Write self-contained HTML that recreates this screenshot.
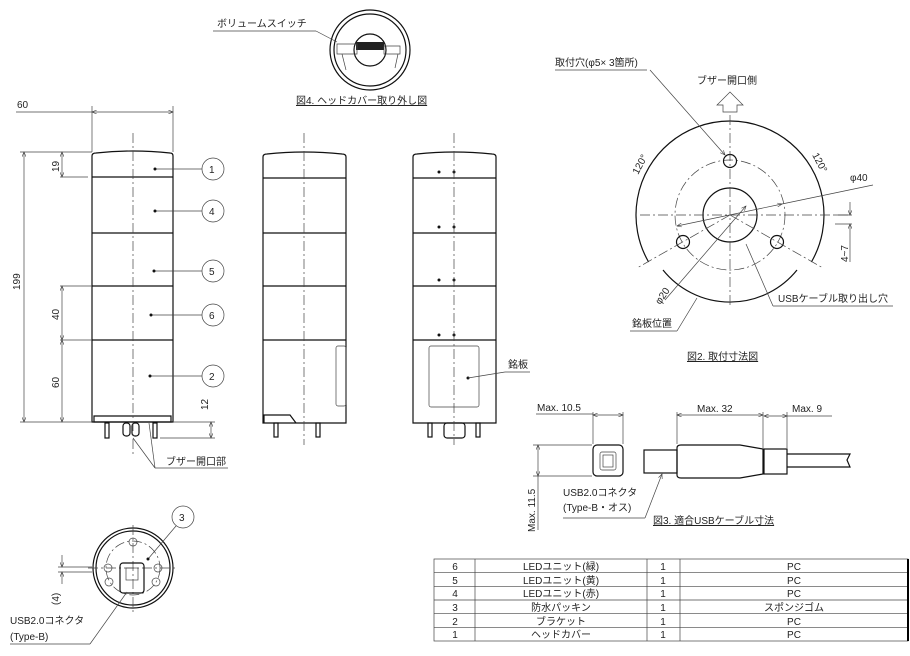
<!DOCTYPE html>
<html><head><meta charset="utf-8"><style>
body{margin:0;background:#fff}
svg{display:block}
text{font-family:"Liberation Sans","Noto Sans CJK JP",sans-serif;font-size:10px;fill:#222}
.l{stroke:#111;fill:none;stroke-width:1.2}
.t{stroke:#444;fill:none;stroke-width:0.7}
.c{stroke:#444;fill:none;stroke-width:0.7;stroke-dasharray:10 3 2 3}
.d{fill:#111}
</style></head><body>
<svg width="910" height="656" viewBox="0 0 910 656" xmlns="http://www.w3.org/2000/svg">
<defs><marker id="a" markerWidth="8" markerHeight="6" refX="7" refY="3" orient="auto-start-reverse"><path d="M0,0 L7,3 L0,6" fill="none" stroke="#333" stroke-width="0.8"/></marker></defs>

<!-- Tower 1 -->
<g>
<path class="l" d="M92,422 V156 Q92,153 96,153 Q133,149 170,153 Q173,153 173,156 V422 Z"/>
<line class="l" x1="92" y1="177" x2="173" y2="177"/><line class="l" x1="92" y1="233" x2="173" y2="233"/>
<line class="l" x1="92" y1="286" x2="173" y2="286"/><line class="l" x1="92" y1="340" x2="173" y2="340"/>
<path class="l" d="M94,422 h77 v-6 h-77z"/>
<rect class="l" x="105" y="423" width="4" height="15"/><rect class="l" x="153" y="423" width="4" height="15"/>
<rect class="l" x="123" y="423" width="7" height="13" rx="3"/><rect class="l" x="132" y="423" width="7" height="13" rx="3"/>
<line class="c" x1="133" y1="133" x2="133" y2="455"/>
<line class="t" x1="92" y1="106" x2="92" y2="152"/><line class="t" x1="173" y1="106" x2="173" y2="152"/>
<line class="t" x1="92" y1="112" x2="173" y2="112" marker-start="url(#a)" marker-end="url(#a)"/>
<line class="t" x1="16" y1="112" x2="92" y2="112"/><text x="17" y="108">60</text>
<line class="t" x1="20" y1="152" x2="92" y2="152"/><line class="t" x1="20" y1="422" x2="92" y2="422"/>
<line class="t" x1="24" y1="152" x2="24" y2="422" marker-start="url(#a)" marker-end="url(#a)"/>
<text transform="translate(20,290) rotate(-90)">199</text>
<line class="t" x1="60" y1="177" x2="88" y2="177"/><line class="t" x1="60" y1="286" x2="92" y2="286"/><line class="t" x1="60" y1="340" x2="92" y2="340"/>
<line class="t" x1="62" y1="152" x2="62" y2="177" marker-start="url(#a)" marker-end="url(#a)"/>
<text transform="translate(59,172) rotate(-90)">19</text>
<line class="t" x1="62" y1="286" x2="62" y2="340" marker-start="url(#a)" marker-end="url(#a)"/>
<text transform="translate(59,320) rotate(-90)">40</text>
<line class="t" x1="62" y1="340" x2="62" y2="422" marker-start="url(#a)" marker-end="url(#a)"/>
<text transform="translate(59,388) rotate(-90)">60</text>
<line class="t" x1="160" y1="438" x2="215" y2="438"/><line class="t" x1="173" y1="422" x2="215" y2="422"/>
<line class="t" x1="211" y1="422" x2="211" y2="438" marker-start="url(#a)" marker-end="url(#a)"/>
<text transform="translate(208,410) rotate(-90)">12</text>
<g class="t"><circle cx="213" cy="169" r="11"/><circle cx="213" cy="211" r="11"/><circle cx="213" cy="271" r="11"/><circle cx="213" cy="315" r="11"/><circle cx="213" cy="376" r="11"/>
<line x1="155" y1="169" x2="202" y2="169"/><line x1="155" y1="211" x2="202" y2="211"/><line x1="154" y1="271" x2="202" y2="271"/><line x1="151" y1="315" x2="202" y2="315"/><line x1="150" y1="376" x2="202" y2="376"/></g>
<g class="d"><circle cx="155" cy="169" r="1.5"/><circle cx="155" cy="211" r="1.5"/><circle cx="154" cy="271" r="1.5"/><circle cx="151" cy="315" r="1.5"/><circle cx="150" cy="376" r="1.5"/></g>
<text x="209" y="173">1</text><text x="209" y="215">4</text><text x="209" y="275">5</text><text x="209" y="319">6</text><text x="209" y="380">2</text>
<line class="t" x1="133" y1="438" x2="155" y2="468"/><line class="t" x1="149" y1="423" x2="155" y2="468"/>
<line class="t" x1="155" y1="468" x2="228" y2="468"/><text x="166" y="465">ブザー開口部</text>
</g>

<!-- Tower 2 -->
<g>
<path class="l" d="M263,423 V157 Q263,154 267,154 Q304,150 342,154 Q346,154 346,157 V423 Z"/>
<line class="l" x1="263" y1="178" x2="346" y2="178"/><line class="l" x1="263" y1="233" x2="346" y2="233"/>
<line class="l" x1="263" y1="286" x2="346" y2="286"/><line class="l" x1="263" y1="340" x2="346" y2="340"/>
<rect class="t" x="336" y="346" width="10" height="60" rx="2"/>
<path class="l" d="M264,423 v-8 h26 l6,8"/>
<rect class="l" x="274" y="423" width="4" height="14"/><rect class="l" x="316" y="423" width="4" height="14"/>
<line class="c" x1="304" y1="133" x2="304" y2="445"/>
</g>

<!-- Tower 3 -->
<g>
<path class="l" d="M413,423 V157 Q413,154 417,154 Q454,150 492,154 Q496,154 496,157 V423 Z"/>
<line class="l" x1="413" y1="178" x2="496" y2="178"/><line class="l" x1="413" y1="233" x2="496" y2="233"/>
<line class="l" x1="413" y1="286" x2="496" y2="286"/><line class="l" x1="413" y1="340" x2="496" y2="340"/>
<rect class="t" x="429" y="346" width="50" height="61" rx="2"/>
<g class="d"><circle cx="439" cy="172" r="1.5"/><circle cx="454" cy="172" r="1.5"/><circle cx="439" cy="227" r="1.5"/><circle cx="454" cy="227" r="1.5"/><circle cx="439" cy="280" r="1.5"/><circle cx="454" cy="280" r="1.5"/><circle cx="439" cy="335" r="1.5"/><circle cx="454" cy="335" r="1.5"/><circle cx="468" cy="378" r="1.5"/></g>
<line class="t" x1="468" y1="378" x2="505" y2="372"/><line class="t" x1="505" y1="372" x2="530" y2="372"/><text x="508" y="368">銘板</text>
<rect class="l" x="428" y="423" width="4" height="14"/><rect class="l" x="476" y="423" width="4" height="14"/>
<rect class="l" x="444" y="423" width="21" height="15" rx="3"/>
<line class="c" x1="454" y1="133" x2="454" y2="445"/>
</g>

<!-- Head cover view -->
<g>
<circle class="l" cx="370" cy="50" r="40"/><circle class="l" cx="370" cy="50" r="36"/>
<circle class="l" cx="370" cy="50" r="16"/>
<rect x="356" y="42" width="28" height="8" fill="#222"/>
<path class="t" d="M337,44 h20 v10 h-20z M384,46 h16 v8 h-16z M342,54 l4,16 M398,54 l-3,14"/>
<line class="t" x1="213" y1="31" x2="316" y2="31"/><line class="t" x1="316" y1="31" x2="337" y2="42"/>
<text x="217" y="27">ボリュームスイッチ</text>
<text x="296" y="104" style="text-decoration:underline">図4. ヘッドカバー取り外し図</text>
</g>

<!-- Bottom view -->
<g>
<circle class="l" cx="133" cy="568" r="40"/><circle class="l" cx="133" cy="568" r="37"/>
<circle class="c" cx="133" cy="568" r="27"/>
<line class="c" x1="88" y1="568" x2="178" y2="568"/><line class="c" x1="133" y1="525" x2="133" y2="612"/>
<g class="t"><circle cx="133" cy="542" r="4"/><circle cx="108" cy="568" r="4"/><circle cx="158" cy="568" r="4"/><circle cx="109" cy="582" r="4"/><circle cx="156" cy="582" r="4"/></g>
<rect class="l" x="120" y="563" width="24" height="30" rx="3"/><rect class="t" x="126" y="568" width="12" height="12"/>
<g class="t"><circle cx="183" cy="517" r="11"/><line x1="148" y1="559" x2="176" y2="526"/></g>
<circle class="d" cx="148" cy="559" r="1.5"/><text x="179" y="521">3</text>
<line class="t" x1="58" y1="567" x2="92" y2="567"/><line class="t" x1="58" y1="572" x2="92" y2="572"/>
<line class="t" x1="62" y1="555" x2="62" y2="567" marker-end="url(#a)"/><line class="t" x1="62" y1="584" x2="62" y2="572" marker-end="url(#a)"/>
<text transform="translate(59,605) rotate(-90)">(4)</text>
<line class="t" x1="10" y1="644" x2="90" y2="644"/><line class="t" x1="90" y1="644" x2="127" y2="592"/>
<text x="10" y="624">USB2.0コネクタ</text><text x="10" y="640">(Type-B)</text>
</g>

<!-- Fig 2 mounting -->
<g>
<path class="l" d="M648.6,262 A94,94 0 1 1 811.4,262"/>
<path class="l" d="M663,270 A86,86 0 0 0 797,270" stroke-width="1.6"/>
<circle class="c" cx="730" cy="215" r="55"/>
<circle class="l" cx="730" cy="215" r="27"/>
<circle class="l" cx="730" cy="161" r="6.5"/><circle class="l" cx="683" cy="242" r="6.5"/><circle class="l" cx="777" cy="242" r="6.5"/>
<line class="c" x1="730" y1="115" x2="730" y2="308"/><line class="c" x1="640" y1="215" x2="850" y2="215"/>
<line class="c" x1="730" y1="215" x2="637" y2="268"/><line class="c" x1="730" y1="215" x2="823" y2="268"/>
<path class="t" d="M723,112 v-7 h-6 l13,-13 l13,13 h-6 v7 z"/>
<text x="697" y="84">ブザー開口側</text>
<line class="t" x1="555" y1="70" x2="647" y2="70"/><line class="t" x1="650" y1="70" x2="725" y2="155" marker-end="url(#a)"/>
<text x="555" y="66">取付穴(φ5× 3箇所)</text>
<text transform="translate(638,175) rotate(-62)">120°</text>
<text transform="translate(812,155) rotate(62)">120°</text>
<line class="t" x1="677" y1="226" x2="782" y2="204" marker-start="url(#a)" marker-end="url(#a)"/><line class="t" x1="782" y1="204" x2="873" y2="185"/>
<text x="850" y="181">φ40</text>
<line class="t" x1="665" y1="300" x2="746" y2="206" marker-end="url(#a)"/>
<text transform="translate(660,305) rotate(-55)">φ20</text>
<line class="t" x1="835" y1="215" x2="852" y2="215"/><line class="t" x1="835" y1="224" x2="852" y2="224"/>
<line class="t" x1="850" y1="202" x2="850" y2="215" marker-end="url(#a)"/><line class="t" x1="850" y1="262" x2="850" y2="224" marker-end="url(#a)"/>
<text transform="translate(848,262) rotate(-90)">4~7</text>
<line class="t" x1="746" y1="244" x2="773" y2="306"/><line class="t" x1="773" y1="306" x2="893" y2="306"/>
<text x="778" y="302">USBケーブル取り出し穴</text>
<line class="t" x1="697" y1="298" x2="677" y2="331"/><line class="t" x1="630" y1="331" x2="677" y2="331"/>
<text x="632" y="327">銘板位置</text>
<text x="687" y="360" style="text-decoration:underline">図2. 取付寸法図</text>
</g>

<!-- Fig 3 USB -->
<g>
<rect class="l" x="593" y="445" width="30" height="31" rx="4"/><rect class="t" x="600" y="452" width="16" height="18" rx="2"/>
<rect class="t" x="603" y="455" width="10" height="12"/>
<line class="t" x1="593" y1="412" x2="593" y2="444"/><line class="t" x1="623" y1="412" x2="623" y2="444"/>
<line class="t" x1="536" y1="414" x2="593" y2="414"/><line class="t" x1="593" y1="415" x2="623" y2="415" marker-start="url(#a)" marker-end="url(#a)"/>
<text x="537" y="411">Max. 10.5</text>
<line class="t" x1="533" y1="445" x2="592" y2="445"/><line class="t" x1="533" y1="476" x2="592" y2="476"/>
<line class="t" x1="538" y1="445" x2="538" y2="476" marker-start="url(#a)" marker-end="url(#a)"/>
<line class="t" x1="538" y1="476" x2="538" y2="530"/>
<text transform="translate(535,532) rotate(-90)">Max. 11.5</text>
<rect class="l" x="644" y="450" width="33" height="23"/>
<path class="l" d="M677,448 Q677,445 681,445 H740 L763,449 V474 L740,478 H681 Q677,478 677,475 Z"/>
<rect class="l" x="764" y="449" width="23" height="25"/>
<path class="l" d="M787,454 H850 L847,460 L850,467 H787"/>
<line class="t" x1="677" y1="412" x2="677" y2="444"/><line class="t" x1="763" y1="412" x2="763" y2="448"/><line class="t" x1="787" y1="412" x2="787" y2="448"/>
<line class="t" x1="677" y1="415" x2="763" y2="415" marker-start="url(#a)" marker-end="url(#a)"/>
<line class="t" x1="764" y1="416" x2="787" y2="416" marker-start="url(#a)" marker-end="url(#a)"/>
<line class="t" x1="787" y1="416" x2="832" y2="416"/>
<text x="697" y="412">Max. 32</text><text x="792" y="412">Max. 9</text>
<line class="t" x1="563" y1="518" x2="645" y2="518"/><line class="t" x1="645" y1="518" x2="662" y2="474" marker-end="url(#a)"/>
<text x="563" y="496">USB2.0コネクタ</text><text x="563" y="511">(Type-B・オス)</text>
<text x="653" y="524" style="text-decoration:underline">図3. 適合USBケーブル寸法</text>
</g>

<!-- Table -->
<g class="t">
<rect x="434" y="559" width="474" height="82"/>
<line x1="434" y1="572.7" x2="908" y2="572.7"/><line x1="434" y1="586.3" x2="908" y2="586.3"/><line x1="434" y1="600" x2="908" y2="600"/><line x1="434" y1="613.7" x2="908" y2="613.7"/><line x1="434" y1="627.3" x2="908" y2="627.3"/>
<line x1="475" y1="559" x2="475" y2="641"/><line x1="647" y1="559" x2="647" y2="641"/><line x1="680" y1="559" x2="680" y2="641"/>
</g>
<line x1="908" y1="559" x2="908" y2="641" stroke="#000" stroke-width="2"/>
<g text-anchor="middle" style="font-size:9.5px">
<text x="455" y="570">6</text><text x="561" y="570">LEDユニット(緑)</text><text x="663" y="570">1</text><text x="794" y="570">PC</text>
<text x="455" y="584">5</text><text x="561" y="584">LEDユニット(黄)</text><text x="663" y="584">1</text><text x="794" y="584">PC</text>
<text x="455" y="597">4</text><text x="561" y="597">LEDユニット(赤)</text><text x="663" y="597">1</text><text x="794" y="597">PC</text>
<text x="455" y="611">3</text><text x="561" y="611">防水パッキン</text><text x="663" y="611">1</text><text x="794" y="611">スポンジゴム</text>
<text x="455" y="625">2</text><text x="561" y="625">ブラケット</text><text x="663" y="625">1</text><text x="794" y="625">PC</text>
<text x="455" y="638">1</text><text x="561" y="638">ヘッドカバー</text><text x="663" y="638">1</text><text x="794" y="638">PC</text>
</g>
</svg>
</body></html>
